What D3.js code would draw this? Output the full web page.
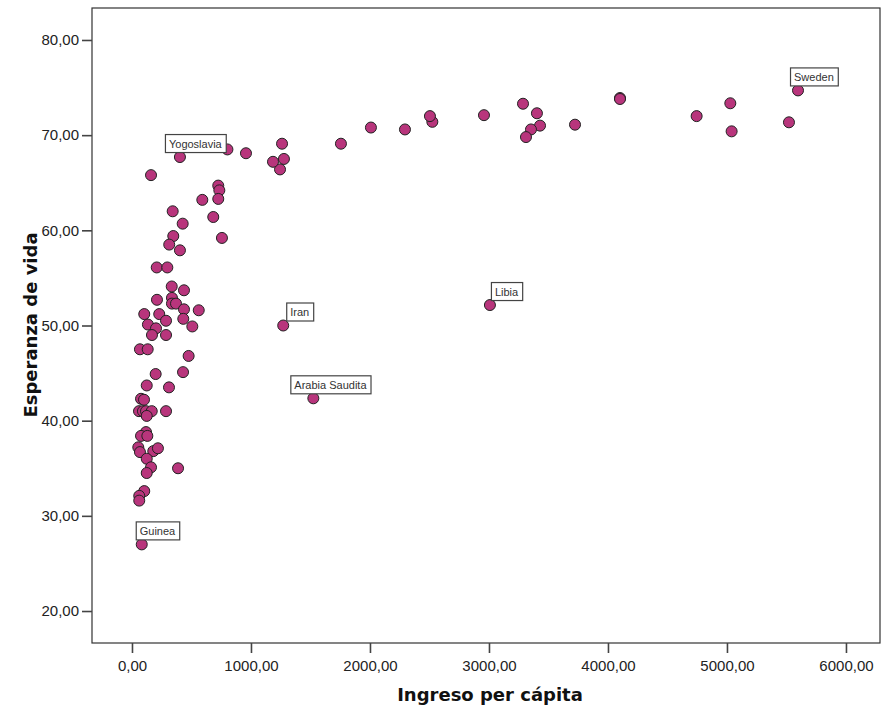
<!DOCTYPE html>
<html>
<head>
<meta charset="utf-8">
<script src="https://cdn.jsdelivr.net/npm/d3@7"></script>
<style>
  body { margin: 0; background: #fff; }
  .tick text { font-family: "Liberation Sans", Arial, sans-serif; font-size: 15px; fill: #222; }
  .title { font-family: "DejaVu Sans", Verdana, sans-serif; font-weight: bold; font-size: 18px; fill: #111; }
  .lbl text { font-family: "Liberation Sans", Arial, sans-serif; font-size: 11px; fill: #333; }
</style>
</head>
<body>
<div id="content"></div>
<script>

// Ingreso per cápita, esperanza de vida
var income = [5597, 5028, 5039, 5521, 4745, 4101, 4101, 3723, 3429, 3403, 3353, 3311, 3286, 2958, 2524, 2504,
  2294, 2008, 1756, 1261, 1277, 1244, 1185, 958, 802, 403, 160,
  725, 734, 725, 591, 683, 756, 426, 347, 313, 403, 342, 208, 297, 334, 437, 210, 336, 336, 370, 437, 561,
  103, 229, 286, 431, 507, 134, 202, 168, 286, 67, 132, 476, 199, 429, 124, 311, 76, 101, 59, 92, 118, 166,
  286, 124, 118, 76, 129, 53, 67, 179, 218, 124, 160, 387, 124, 103, 61, 61, 82, 1271, 1524, 3008];

var lifeExp = [74.7, 73.35, 70.4, 71.35, 72.0, 73.9, 73.8, 71.1, 71.0, 72.3, 70.6, 69.8, 73.3, 72.1, 71.4, 72.0,
  70.6, 70.8, 69.1, 69.1, 67.5, 66.4, 67.2, 68.1, 68.5, 67.7, 65.8,
  64.7, 64.2, 63.3, 63.2, 61.4, 59.2, 60.7, 59.4, 58.5, 57.9, 62.0, 56.1, 56.1, 54.1, 53.7, 52.7, 52.9, 52.3, 52.3, 51.7, 51.6,
  51.2, 51.2, 50.5, 50.7, 49.9, 50.1, 49.7, 49.0, 49.0, 47.5, 47.5, 46.8, 44.9, 45.1, 43.7, 43.5, 42.3, 42.2, 41.0, 41.0, 41.0, 41.0,
  41.0, 40.5, 38.8, 38.4, 38.4, 37.2, 36.7, 36.8, 37.1, 36.0, 35.1, 35.0, 34.5, 32.6, 32.1, 31.6, 27.0, 50.0, 42.35, 52.15];

// etiquetas
var labelNames  = ["Sweden", "Yogoslavia", "Iran", "Arabia Saudita", "Libia", "Guinea"];
var labelIncome = [5597, 403, 1271, 1524, 3008, 82];
var labelLife   = [74.7, 67.7, 50.0, 42.35, 52.15, 27.0];

var xTicks = [0, 1000, 2000, 3000, 4000, 5000, 6000];
var yTicks = [20, 30, 40, 50, 60, 70, 80];

var width = 886, height = 708;
var plotLeft = 92, plotRight = 880, plotTop = 8, plotBottom = 643;

var svg = d3.select("#content").append("svg")
    .attr("width", width).attr("height", height);

var x = d3.scaleLinear().domain([-336, 6286]).range([plotLeft, plotRight]);
var y = d3.scaleLinear().domain([16.64, 83.36]).range([plotBottom, plotTop]);

var fmt = function(d) { return d3.format(".2f")(d).replace(".", ","); };

// frame
svg.append("rect")
    .attr("x", plotLeft).attr("y", plotTop)
    .attr("width", plotRight - plotLeft).attr("height", plotBottom - plotTop)
    .attr("fill", "#fff").attr("stroke", "#333").attr("stroke-width", 1.2);

var xAxis = svg.append("g")
    .attr("transform", "translate(0," + plotBottom + ")")
    .call(d3.axisBottom(x).tickValues(xTicks).tickFormat(fmt).tickSize(10).tickPadding(7));

var yAxis = svg.append("g")
    .attr("transform", "translate(" + plotLeft + ",0)")
    .call(d3.axisLeft(y).tickValues(yTicks).tickFormat(fmt).tickSize(10).tickPadding(3));

[xAxis, yAxis].forEach(function(a) {
  a.select(".domain").remove();
  a.selectAll(".tick line").attr("stroke", "#444").attr("stroke-width", 1.6);
});

svg.append("text").attr("class", "title")
    .attr("x", 490).attr("y", 701)
    .attr("text-anchor", "middle")
    .text("Ingreso per cápita");

svg.append("text").attr("class", "title")
    .attr("transform", "translate(37,325) rotate(-90)")
    .attr("text-anchor", "middle")
    .text("Esperanza de vida");

// points
svg.append("g").selectAll("circle")
    .data(d3.range(income.length))
    .enter().append("circle")
      .attr("cx", function(i) { return x(income[i]); })
      .attr("cy", function(i) { return y(lifeExp[i]); })
      .attr("r", 5.5)
      .attr("fill", "#b8357c")
      .attr("stroke", "#222")
      .attr("stroke-width", 1);

// label boxes: horizontal nudge of the box relative to its point
var nudge = { "Sweden": -8, "Yogoslavia": -15, "Iran": 3, "Arabia Saudita": -23, "Libia": 1, "Guinea": -6 };

var lbl = svg.append("g").attr("class", "lbl")
    .selectAll("g")
    .data(d3.range(labelNames.length))
    .enter().append("g")
      .attr("transform", function(i) {
        return "translate(" + (x(labelIncome[i]) + nudge[labelNames[i]]) + "," + (y(labelLife[i]) - 23) + ")";
      });

var txt = lbl.append("text")
    .attr("x", 4).attr("y", 13.5)
    .text(function(i) { return labelNames[i]; });

lbl.insert("rect", "text")
    .attr("x", 0.5).attr("y", 0.5)
    .attr("height", 18)
    .attr("width", function(i) { return txt.nodes()[i].getComputedTextLength() + 8; })
    .attr("fill", "#fff")
    .attr("stroke", "#444")
    .attr("stroke-width", 1.2);

</script>
</body>
</html>
